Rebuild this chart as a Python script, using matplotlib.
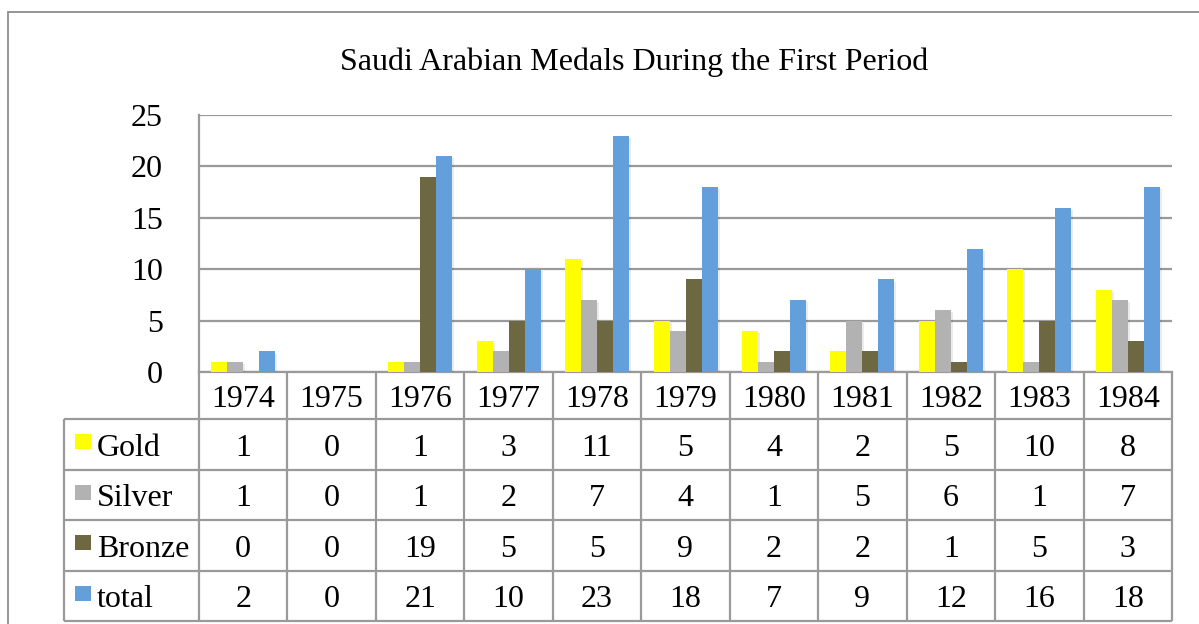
import matplotlib
matplotlib.use('Agg')
import matplotlib.pyplot as plt
import numpy as np
from matplotlib.patches import Rectangle
import matplotlib.patheffects as pe

plt.rcParams['font.family'] = ['Liberation Serif', 'DejaVu Serif']

years = ['1974', '1975', '1976', '1977', '1978', '1979', '1980', '1981', '1982', '1983', '1984']
gold = [1, 0, 1, 3, 11, 5, 4, 2, 5, 10, 8]
silver = [1, 0, 1, 2, 7, 4, 1, 5, 6, 1, 7]
bronze = [0, 0, 19, 5, 5, 9, 2, 2, 1, 5, 3]
total = [2, 0, 21, 10, 23, 18, 7, 9, 12, 16, 18]
series_names = ['Gold', 'Silver', 'Bronze', 'total']
series_values = [gold, silver, bronze, total]
colors = ['#FFFF00', '#B2B2B2', '#6E6842', '#639FDB']
title = 'Saudi Arabian Medals During the First Period'

W, H = 1199, 624
FS = 23
GRID = '#9a9a9a'
fig = plt.figure(figsize=(W / 100, H / 100), dpi=100)


def fx(px):
    return px / W


def fy(py):
    return 1 - py / H


# outer chart border
fig.add_artist(Rectangle((fx(8), fy(700)), fx(1400) - fx(8), (700 - 12) / H,
                         transform=fig.transFigure, fill=False, ec='#8c8c8c', lw=1.3))

fig.text(fx(634), fy(62), title, ha='center', va='center', fontsize=FS)

# plot area
left_px, right_px, top_px, zero_px = 199, 1172, 115, 372
ax = fig.add_axes([fx(left_px), fy(zero_px), (right_px - left_px) / W, (zero_px - top_px) / H])
n = len(years)
ax.set_xlim(0, n)
ax.set_ylim(0, 25)
ax.set_yticks(np.arange(0, 26, 5))
ax.set_xticks([])
ax.yaxis.grid(True, color=GRID, lw=1.6)
ax.set_axisbelow(True)
for s in ['top', 'right']:
    ax.spines[s].set_visible(False)
for s in ['left', 'bottom']:
    ax.spines[s].set_color(GRID)
    ax.spines[s].set_linewidth(1.6)
ax.tick_params(axis='y', length=0, pad=26, labelsize=FS)
for lbl in ax.get_yticklabels():
    lbl.set_verticalalignment('center_baseline')

col_px = (right_px - left_px) / n
bw = 16 / col_px
x = np.arange(n) + 0.5
shadow = [pe.SimplePatchShadow(offset=(1.5, -1.5), shadow_rgbFace='#000000', alpha=0.08), pe.Normal()]
for i, (vals, c) in enumerate(zip(series_values, colors)):
    bars = ax.bar(x + (i - 1.5) * bw, vals, width=bw, color=c, lw=0, zorder=3)
    for b in bars:
        b.set_path_effects(shadow)

# data table
tab_left_px = 64
row_edges = [372, 419, 470, 520, 571, 621]
tab = fig.add_axes([fx(tab_left_px), fy(row_edges[-1]), (right_px - tab_left_px) / W,
                    (row_edges[-1] - row_edges[0]) / H])
xl = -(left_px - tab_left_px) / col_px
tab.set_xlim(xl, n)
tab.set_ylim(row_edges[-1], row_edges[0])
tab.axis('off')

lk = dict(color=GRID, lw=1.6, clip_on=False, solid_capstyle='butt')
for ye in row_edges[1:]:
    tab.plot([xl, n], [ye, ye], **lk)
for xe in range(0, n + 1):
    tab.plot([xe, xe], [row_edges[0], row_edges[-1]], **lk)
tab.plot([xl, xl], [row_edges[1], row_edges[-1]], **lk)

dy = 4
for j, yr in enumerate(years):
    tab.text(j + 0.5, (row_edges[0] + row_edges[1]) / 2 + dy, yr, ha='center', va='center', fontsize=FS)

sq_x = (75 - left_px) / col_px
sq_w = 16 / col_px
txt_x = (97 - left_px) / col_px
for r, (name, vals, c) in enumerate(zip(series_names, series_values, colors)):
    yc = (row_edges[r + 1] + row_edges[r + 2]) / 2
    tab.add_patch(Rectangle((sq_x, yc - 10), sq_w, 15, color=c, clip_on=False, lw=0))
    tab.text(txt_x, yc + dy, name, ha='left', va='center', fontsize=FS)
    for j, v in enumerate(vals):
        tab.text(j + 0.5, yc + dy, str(v), ha='center', va='center', fontsize=FS)

fig.savefig('out.png', dpi=100)
